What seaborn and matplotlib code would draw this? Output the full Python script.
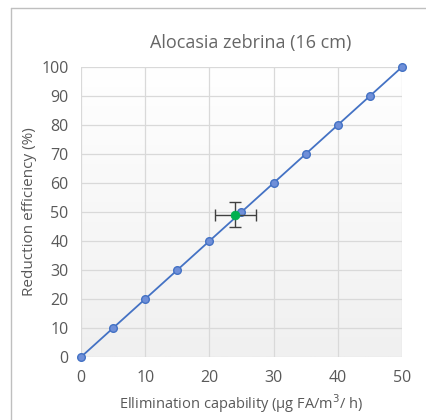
import numpy as np
import pandas as pd
import matplotlib
matplotlib.use("Agg")
import matplotlib.pyplot as plt
from matplotlib.lines import Line2D
import seaborn as sns

# data
capability = [0, 5, 10, 15, 20, 25, 30, 35, 40, 45, 50]
efficiency = [0, 10, 20, 30, 40, 50, 60, 70, 80, 90, 100]
measured_x = [24.0]
measured_y = [49.0]
measured_xerr = [3.2]
measured_yerr = [4.3]

sns.set_theme(style="white")
plt.rcParams['font.family'] = ['Open Sans', 'DejaVu Sans']

fig = plt.figure(figsize=(4.27, 4.20), dpi=100)
W, H = 427, 420
ax = fig.add_axes([81 / W, 1 - 357 / H, (402 - 81) / W, (357 - 67) / H])

# light gradient behind the plot area
grad = np.linspace(1.0, 0.0, 256).reshape(-1, 1)
ax.imshow(grad, extent=[0, 1, 0, 1], transform=ax.transAxes, aspect="auto",
          cmap=matplotlib.colors.LinearSegmentedColormap.from_list("g", ["#f0f0f0", "#ffffff"]),
          vmin=0, vmax=1, zorder=0)

df = pd.DataFrame({"x": capability, "y": efficiency})
sns.lineplot(data=df, x="x", y="y", ax=ax, color="#4472C4", linewidth=1.3,
             marker="o", markersize=5.5, markerfacecolor="#6f8fd8",
             markeredgecolor="#4472C4", markeredgewidth=1, zorder=3, clip_on=False)

ax.errorbar(measured_x, measured_y, xerr=measured_xerr, yerr=measured_yerr,
            fmt="none", ecolor="#404040", elinewidth=1, capsize=4, zorder=4)
sns.scatterplot(x=measured_x, y=measured_y, ax=ax, color="#00b050", s=40,
                edgecolor="#00b050", zorder=5)

ax.set_xlim(0, 50)
ax.set_ylim(0, 100)
ax.set_xticks(range(0, 51, 10))
ax.set_yticks(range(0, 101, 10))
ax.grid(True, color="#d9d9d9", linewidth=0.9)
ax.set_axisbelow(True)
for s in ax.spines.values():
    s.set_visible(False)
ax.tick_params(axis="both", colors="#595959", labelsize=11.5, length=0, pad=9)

ax.set_xlabel("Ellimination capability (µg FA/m$^3$/ h)", color="#595959", fontsize=10.5, labelpad=5)
ax.set_ylabel("Reduction efficiency (%)", color="#595959", fontsize=11, labelpad=3)
ax.set_title("Alocasia zebrina (16 cm)", color="#666666", fontsize=13, pad=14, x=0.53)

# chart border (left and top visible)
fig.add_artist(Line2D([11 / W, 11 / W], [0, 1 - 8 / H], transform=fig.transFigure,
                      color="#bfbfbf", linewidth=1))
fig.add_artist(Line2D([11 / W, 1], [1 - 8 / H, 1 - 8 / H], transform=fig.transFigure,
                      color="#bfbfbf", linewidth=1))

fig.savefig("out.png", dpi=100)
